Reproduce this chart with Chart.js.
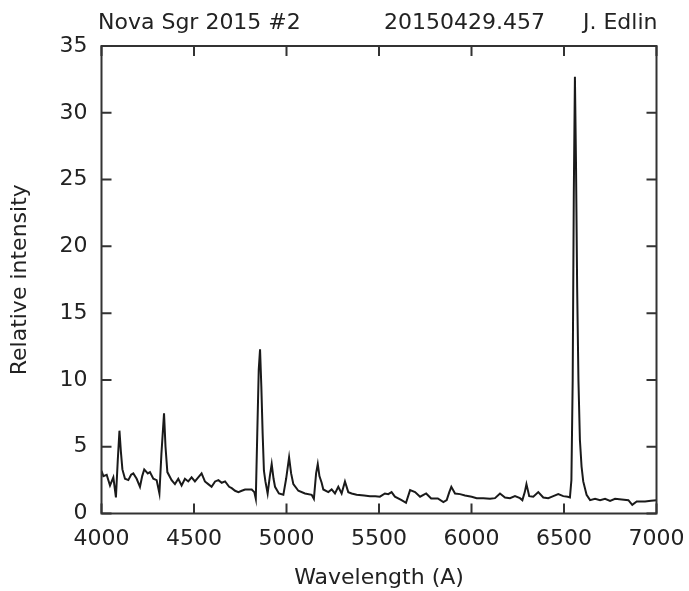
<!DOCTYPE html>
<html>
<head>
<meta charset="utf-8">
<script src="https://cdn.jsdelivr.net/npm/chart.js@4/dist/chart.umd.min.js"></script>
<style>
  html, body { margin: 0; padding: 0; background: #fff; }
  canvas { display: block; }
</style>
</head>
<body>
<canvas id="spectrum" width="689" height="591"></canvas>
<script>
  // header texts drawn above the plot
  const headerTexts = ['Nova Sgr 2015 #2', '20150429.457', 'J. Edlin'];

  // tick values
  const xTicks = [4000, 4500, 5000, 5500, 6000, 6500, 7000];
  const yTicks = [0, 5, 10, 15, 20, 25, 30, 35];

  // spectrum
  const wavelengths = [
    4000, 4010, 4028, 4046, 4064, 4078, 4088, 4097, 4105, 4113,
    4127, 4145, 4160, 4172, 4190, 4208, 4220, 4231, 4250, 4262,
    4280, 4298, 4313, 4324, 4338, 4346, 4356, 4379, 4397, 4415,
    4433, 4451, 4469, 4487, 4505, 4523, 4541, 4559, 4577, 4595,
    4614, 4632, 4650, 4668, 4690, 4704, 4722, 4740, 4758, 4776,
    4794, 4812, 4826, 4834, 4842, 4850, 4857, 4864, 4871, 4878,
    4886, 4898, 4910, 4920, 4930, 4938, 4959, 4983, 4998, 5014,
    5025, 5037, 5064, 5100, 5136, 5148, 5160, 5169, 5178, 5190,
    5199, 5226, 5244, 5262, 5280, 5298, 5316, 5334, 5352, 5379,
    5420, 5451, 5480, 5505, 5532, 5550, 5568, 5586, 5622, 5646,
    5668, 5695, 5722, 5755, 5782, 5818, 5848, 5866, 5880, 5891,
    5911, 5938, 5965, 6001, 6028, 6064, 6100, 6127, 6154, 6181,
    6208, 6235, 6262, 6275, 6288, 6297, 6312, 6334, 6361, 6388,
    6415, 6442, 6469, 6496, 6520, 6532, 6540, 6547, 6553, 6559,
    6565, 6571, 6578, 6586, 6595, 6604, 6622, 6641, 6668, 6695,
    6722, 6749, 6776, 6812, 6848, 6869, 6893, 6938, 6970, 7000,
  ];
  const intensity = [
    3.2, 2.8, 2.9, 2.1, 2.7, 1.2, 4.0, 6.2, 4.6, 3.3,
    2.6, 2.5, 2.9, 3.0, 2.6, 2.0, 2.8, 3.3, 3.0, 3.1,
    2.6, 2.5, 1.5, 4.5, 7.5, 5.0, 3.1, 2.5, 2.2, 2.6,
    2.1, 2.6, 2.4, 2.7, 2.4, 2.7, 3.0, 2.4, 2.2, 2.0,
    2.4, 2.5, 2.3, 2.4, 2.0, 1.9, 1.7, 1.6, 1.7, 1.8,
    1.8, 1.8, 1.6, 1.1, 6.0, 10.8, 12.3, 9.5, 6.0, 3.2,
    2.4, 1.5, 2.8, 3.7, 2.6, 2.0, 1.5, 1.4, 2.6, 4.2,
    3.0, 2.2, 1.7, 1.5, 1.4, 1.1, 3.0, 3.7, 2.8, 2.3,
    1.8, 1.6, 1.8, 1.5, 2.0, 1.5, 2.4, 1.6, 1.5, 1.4,
    1.35, 1.3, 1.3, 1.26, 1.5, 1.45, 1.6, 1.26, 1.0, 0.8,
    1.75, 1.6, 1.26, 1.5, 1.13, 1.13, 0.85, 1.0, 1.6, 2.0,
    1.5, 1.45, 1.35, 1.25, 1.15, 1.15, 1.1, 1.15, 1.5, 1.2,
    1.15, 1.3, 1.15, 1.0, 1.6, 2.2, 1.3, 1.25, 1.6, 1.2,
    1.15, 1.3, 1.45, 1.3, 1.25, 1.2, 2.5, 10, 24, 32.7,
    26, 17, 10, 5.5, 3.5, 2.4, 1.4, 1.0, 1.1, 1.0,
    1.1, 0.95, 1.1, 1.05, 1.0, 0.65, 0.9, 0.9, 0.95, 1.0,
  ];

  const textFont = { family: '"DejaVu Sans", Verdana, sans-serif', size: 22 };
  const inkColor = '#222';

  // box round the plot with inward ticks on all four sides
  const framePlugin = {
    id: 'frame',
    afterDraw(chart) {
      const { ctx, chartArea: a, scales } = chart;
      const tickLen = 10;
      ctx.save();
      ctx.strokeStyle = '#333';
      ctx.lineWidth = 2;
      ctx.strokeRect(a.left, a.top, a.right - a.left, a.bottom - a.top);
      ctx.beginPath();
      xTicks.forEach((v) => {
        const px = scales.x.getPixelForValue(v);
        ctx.moveTo(px, a.bottom);
        ctx.lineTo(px, a.bottom - tickLen);
        ctx.moveTo(px, a.top);
        ctx.lineTo(px, a.top + tickLen);
      });
      yTicks.forEach((v) => {
        const py = scales.y.getPixelForValue(v);
        ctx.moveTo(a.left, py);
        ctx.lineTo(a.left + tickLen, py);
        ctx.moveTo(a.right, py);
        ctx.lineTo(a.right - tickLen, py);
      });
      ctx.stroke();

      // header line
      ctx.fillStyle = inkColor;
      ctx.font = `${textFont.size}px ${textFont.family}`;
      ctx.textBaseline = 'alphabetic';
      ctx.textAlign = 'left';
      ctx.fillText(headerTexts[0], 98, 29);
      ctx.fillText(headerTexts[1], 384, 29);
      ctx.textAlign = 'right';
      ctx.fillText(headerTexts[2], a.right + 1, 29);
      ctx.restore();
    },
  };

  const points = wavelengths.map((w, i) => ({ x: w, y: intensity[i] }));

  new Chart(document.getElementById('spectrum'), {
    type: 'line',
    data: {
      datasets: [
        {
          data: points,
          borderColor: '#1a1a1a',
          borderWidth: 2,
          pointRadius: 0,
          tension: 0,
        },
      ],
    },
    options: {
      responsive: false,
      animation: false,
      devicePixelRatio: 1,
      layout: { padding: { top: 46, right: 32.5, left: 0, bottom: 0 } },
      plugins: { legend: { display: false }, tooltip: { enabled: false } },
      scales: {
        x: {
          type: 'linear',
          min: 4000,
          max: 7000,
          afterFit: (s) => {
            s.height = 77.5;
            s.paddingLeft = 0;
            s.paddingRight = 0;
          },
          afterBuildTicks: (s) => { s.ticks = xTicks.map((v) => ({ value: v })); },
          ticks: {
            font: textFont,
            color: inkColor,
            padding: 13,
            maxRotation: 0,
            callback: (v) => String(v),
          },
          grid: { display: false, drawTicks: false },
          border: { display: false },
          title: {
            display: true,
            text: 'Wavelength (A)',
            font: textFont,
            color: inkColor,
            padding: { top: 0, bottom: 0 },
          },
        },
        y: {
          min: 0,
          max: 35,
          afterFit: (s) => {
            s.width = 101.5;
            s.paddingTop = 0;
            s.paddingBottom = 0;
          },
          afterBuildTicks: (s) => { s.ticks = yTicks.map((v) => ({ value: v })); },
          ticks: {
            font: textFont,
            color: inkColor,
            padding: 14,
            callback: (v) => String(v),
          },
          grid: { display: false, drawTicks: false },
          border: { display: false },
          title: {
            display: true,
            text: 'Relative intensity',
            font: textFont,
            color: inkColor,
            padding: { top: 7, bottom: 0 },
          },
        },
      },
    },
    plugins: [framePlugin],
  });
</script>
</body>
</html>
